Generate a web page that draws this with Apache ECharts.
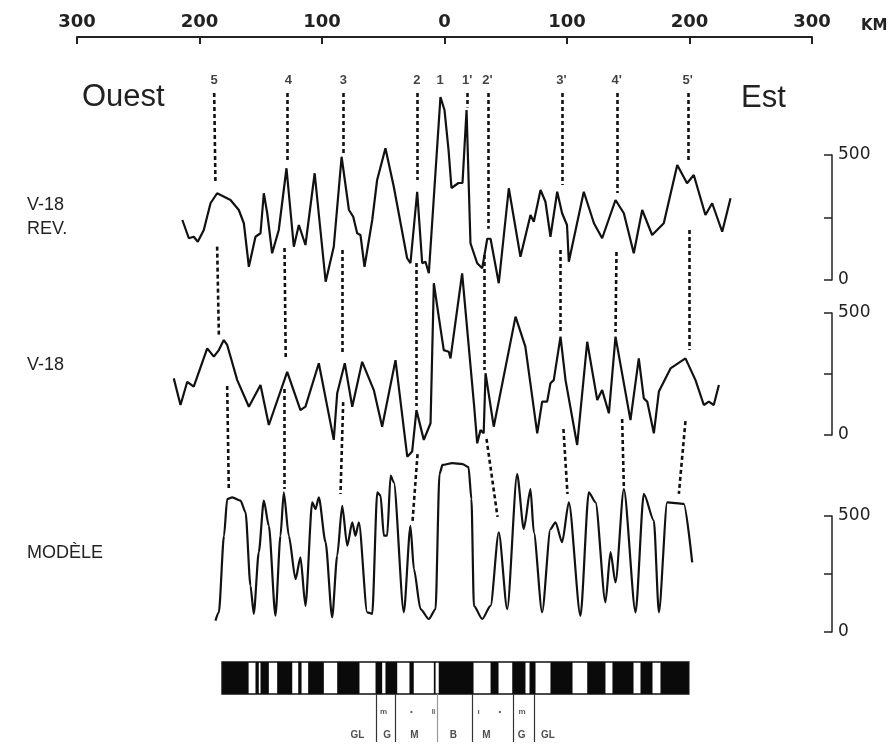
<!DOCTYPE html>
<html>
<head>
<meta charset="utf-8">
<script src="https://cdn.jsdelivr.net/npm/echarts@6/dist/echarts.min.js"></script>
<style>html,body{margin:0;padding:0;background:#fff}#c{width:893px;height:749px}</style>
</head>
<body>
<div id="c"></div>
<script>
// ---- distance axis (km) ----
const kmTicks = [-300, -200, -100, 0, 100, 200, 300];

// ---- V-18 REV. profile (km, nT) ----
const revKm = [-214,-208.7,-204.7,-201.4,-196.5,-191,-185.6,-174.7,-167.9,-163.8,-159.7,-154.3,-150.2,-147.5,-144.7,-140.7,-135.3,-129,-123,-118.9,-113.5,-106,-97,-90.4,-84,-78,-74.5,-71.3,-68.6,-65.3,-59,-55,-48.2,-41.4,-30.5,-27.8,-22.3,-18.2,-15.5,-12.8,-3.3,0,3.3,5.7,11.4,14.7,18,21.2,26.7,30.8,34.9,37.6,44.3,52.5,62,70.2,72.9,78.4,82.4,86.5,92,96,100,101.5,113.7,122,128.7,139.6,146.4,154.5,161.4,169.5,179,190,198,203.5,213,218.5,226.7,233.5];
const revVal = [240,167,173,153,200,307,347,320,280,227,53,173,187,347,267,107,200,447,133,220,140,427,-7,133,493,280,253,187,180,53,240,400,527,373,87,67,353,67,73,27,732,680,520,368,388,388,680,147,67,47,165,165,-13,367,93,260,233,360,313,173,353,267,220,73,353,227,167,320,267,107,280,180,227,460,387,420,260,307,193,327];

// ---- V-18 profile ----
const v18Km = [-221,-215.5,-210,-204.7,-193.7,-188.3,-184.2,-180.2,-177.4,-169.2,-159.7,-150.2,-143.4,-128.4,-117.6,-113.5,-102.6,-90.4,-87.6,-81.4,-75.3,-67.2,-57.7,-50.9,-40,-30.4,-26.4,-22.9,-16.9,-11.4,-8.7,-4.7,-0.6,3.5,4.9,14.4,24,26.7,29.4,32,33.5,40.2,58,66,75.7,79.7,83.8,86.5,89.2,94.7,98.8,108.3,116.5,124.7,128.7,134.2,139.6,151.8,158.6,162.7,165.5,170.9,175,184.5,196.7,204.9,211.7,215.8,219.8,224];
const v18Val = [232,123,218,198,355,321,348,389,369,225,116,205,41,259,102,116,294,-20,171,294,116,300,184,34,307,-89,-68,102,-20,48,622,485,348,341,314,662,130,-34,20,7,253,34,485,362,7,137,137,212,225,403,225,-41,382,143,184,89,403,61,314,150,137,7,178,273,314,225,123,137,123,205];

// ---- MODÈLE profile ----
const modKm = [-187,-184.2,-180,-177.4,-173.3,-166.5,-162.4,-158.4,-155.7,-151.6,-147.5,-143.4,-138,-133.9,-131.2,-127.1,-121.6,-117.6,-113.5,-108,-105.3,-102.6,-97.1,-91.7,-87.6,-83.5,-79.4,-75.3,-72.7,-69.9,-63.1,-59,-54.9,-52.2,-49.5,-46.8,-44,-41.4,-33.2,-27.8,-25,-19.6,-12.8,-7.3,-4.1,-1.6,6.5,14.7,19.6,22,24,30.8,37.6,44.3,51.2,59.3,64.7,70.2,72.9,79.7,86.5,90.6,96,101.5,111,117.8,123.3,131.4,135.5,139.6,146.4,156,162.7,170.9,175,181.8,195.4,202.2];
const modVal = [49,85,415,573,580,566,516,200,78,344,566,458,70,415,602,415,228,322,113,559,530,580,387,63,329,544,372,473,415,473,85,78,602,588,415,415,674,645,85,458,272,99,56,99,681,720,728,724,711,573,113,56,113,430,99,681,444,616,430,85,444,473,387,559,70,602,559,128,344,214,616,85,595,480,85,559,552,300];

// ---- correlation labels & dashed links [kmTop, valTop, kmBottom, valBottom] ----
const anomalyNames = ['5','4','3','2','1',"1'","2'","3'","4'","5'"];
const anomalyKm    = [-188,-127.5,-82.5,-22.5,-3.5,18.5,35,95.5,140.5,198.5];
const labelVal = 800;
const linksRev = [[-188,748,-187,392],[-128,748,-128,468],[-83,748,-83,508],[-22.4,748,-22.4,400],[18.4,748,18.4,690],[35.5,748,35.5,205],[96,748,96,380],[141,748,141,348],[198.8,748,198.8,480]];
const linksV18 = [[-185.6,772,-184.2,410],[-130.6,766,-129.6,307],[-83.3,758,-83.3,340],[-23.3,705,-23.3,119],[32.7,738,32.7,266],[94.7,758,94.7,418],[140.4,750,139.6,422],[199.4,840,199.4,348]];
const linksMod = [[-177.4,1060,-176.1,616],[-131.2,1047,-131.2,616],[-82.7,991,-84.9,595],[-22,767,-26.1,478],[34.3,832,43.3,496],[97.1,875,100.4,595],[145,918,146.4,629],[196.7,909,191.3,595]];

// ---- polarity block model (black = normal), km ----
const blockStart = [-181.6,-154.3,-150.2,-136.6,-119.4,-111.3,-87.6,-56.3,-48.2,-28.6,-8.7,-4.7,37.6,55.3,69.4,86.5,116.5,137.1,160,176.3];
const blockEnd   = [-159.9,-151.6,-143.4,-124.3,-116.7,-98.5,-69.4,-50.9,-38.6,-25.1,-7.3,23.7,44.1,66.1,74.3,104.5,131.4,154.3,169.8,199.4];
const barExtent = [-181.6, 199.4];
const zoneBounds = [-55.9,-40.4,-6.1,22.9,55.9,73];
const zoneLabels = ['GL','G','M','B','M','G','GL'];
const zoneLabelKm = [-71,-46.8,-24.5,7.3,34.3,62.9,84.5];
const zoneMarks = ['m','•','‖','ı','•','m'];
const zoneMarkKm = [-49.8,-27,-9,27.8,45.3,63.3];

const zip = (a, b) => a.map((v, i) => [v, b[i]]);
const linkData = arr => arr.map(l => ({coords: [[l[0], l[1]], [l[2], l[3]]]}));

const chart = echarts.init(document.getElementById('c'), null, {renderer: 'canvas'});
const FONT = 'Liberation Sans';
const grids = [
  {left: 77, right: 81, top: 155, height: 125},
  {left: 77, right: 81, top: 313, height: 122},
  {left: 77, right: 81, top: 516, height: 116},
  {left: 77, right: 81, top: 662, height: 32}
];
const xAxes = grids.map((g, i) => ({
  gridIndex: i, type: 'value', min: -300, max: 300, interval: 100,
  show: i === 0,
  position: 'top', offset: 118,
  axisLine: {show: true, onZero: false, lineStyle: {color: '#222', width: 2}},
  axisTick: {show: true, inside: true, length: 7, lineStyle: {color: '#222', width: 2}},
  axisLabel: {formatter: v => String(Math.abs(v)), color: '#222', fontSize: 18, fontWeight: 'bold', fontFamily: 'DejaVu Sans', margin: 6},
  splitLine: {show: false}
}));
const yAxes = grids.map((g, i) => i < 3 ? ({
  gridIndex: i, type: 'value', min: 0, max: 500, interval: 250,
  position: 'right', offset: 20,
  axisLine: {show: true, onZero: false, lineStyle: {color: '#222', width: 1.5}},
  axisTick: {show: true, inside: true, length: 8, lineStyle: {color: '#222', width: 1.5}},
  axisLabel: {formatter: v => (v === 250 ? '' : String(v)), color: '#222', fontSize: 17, fontFamily: 'DejaVu Sans', margin: 6},
  splitLine: {show: false}
}) : ({gridIndex: i, type: 'value', min: 0, max: 1, show: false}));

const profileStyle = {color: '#111', width: 2.2};
const dashStyle = {color: '#111', width: 2.6, type: [4, 3], opacity: 1};
const series = [
  {type: 'line', xAxisIndex: 0, yAxisIndex: 0, data: zip(revKm, revVal), showSymbol: false, clip: false, lineStyle: profileStyle, silent: true},
  {type: 'line', xAxisIndex: 1, yAxisIndex: 1, data: zip(v18Km, v18Val), showSymbol: false, clip: false, lineStyle: profileStyle, silent: true},
  {type: 'line', xAxisIndex: 2, yAxisIndex: 2, data: zip(modKm, modVal), showSymbol: false, clip: false, smooth: 0.25, smoothMonotone: 'x', lineStyle: profileStyle, silent: true},
  {type: 'lines', coordinateSystem: 'cartesian2d', xAxisIndex: 0, yAxisIndex: 0, data: linkData(linksRev), lineStyle: dashStyle, clip: false, silent: true},
  {type: 'lines', coordinateSystem: 'cartesian2d', xAxisIndex: 1, yAxisIndex: 1, data: linkData(linksV18), lineStyle: dashStyle, clip: false, silent: true},
  {type: 'lines', coordinateSystem: 'cartesian2d', xAxisIndex: 2, yAxisIndex: 2, data: linkData(linksMod), lineStyle: dashStyle, clip: false, silent: true},
  {type: 'scatter', xAxisIndex: 0, yAxisIndex: 0, symbolSize: 0, clip: false, silent: true,
   data: anomalyKm.map((k, i) => ({value: [k, labelVal], name: anomalyNames[i]})),
   label: {show: true, position: 'inside', formatter: p => p.name, color: '#111', fontSize: 13, fontWeight: 'bold', fontFamily: FONT}},
  {type: 'custom', xAxisIndex: 3, yAxisIndex: 3, silent: true, clip: false,
   data: blockStart.map((s, i) => [s, blockEnd[i]]),
   encode: {x: [0, 1]},
   renderItem: (params, api) => {
     const a = api.coord([api.value(0), 1]);
     const b = api.coord([api.value(1), 0]);
     return {type: 'rect', shape: {x: a[0], y: a[1], width: Math.max(1, b[0] - a[0]), height: b[1] - a[1]}, style: {fill: '#0a0a0a'}};
   }},
  {type: 'custom', xAxisIndex: 3, yAxisIndex: 3, silent: true, clip: false,
   data: [barExtent],
   encode: {x: [0, 1]},
   renderItem: (params, api) => {
     const a = api.coord([api.value(0), 1]);
     const b = api.coord([api.value(1), 0]);
     return {type: 'rect', shape: {x: a[0], y: a[1], width: b[0] - a[0], height: b[1] - a[1]}, style: {fill: 'none', stroke: '#111', lineWidth: 1.5}};
   }},
  {type: 'lines', coordinateSystem: 'cartesian2d', xAxisIndex: 3, yAxisIndex: 3, clip: false, silent: true,
   data: zoneBounds.map((k, i) => ({coords: [[k, 0], [k, -1.5]], lineStyle: {color: i === 2 ? '#999' : '#333'}})),
   lineStyle: {width: 1.2, opacity: 1}},
  {type: 'scatter', xAxisIndex: 3, yAxisIndex: 3, symbolSize: 0, clip: false, silent: true,
   data: zoneLabelKm.map((k, i) => ({value: [k, -1.28], name: zoneLabels[i]})),
   label: {show: true, position: 'inside', formatter: p => p.name, color: '#222', fontSize: 10, fontWeight: 'bold', fontFamily: FONT}},
  {type: 'scatter', xAxisIndex: 3, yAxisIndex: 3, symbolSize: 0, clip: false, silent: true,
   data: zoneMarkKm.map((k, i) => ({value: [k, -0.56], name: zoneMarks[i]})),
   label: {show: true, position: 'inside', formatter: p => p.name, color: '#333', fontSize: 8, fontWeight: 'bold', fontFamily: FONT}}
];

const txt = (text, x, y, size, extra) => Object.assign({
  type: 'text', x: x, y: y, silent: true,
  style: Object.assign({text: text, fill: '#222', font: size + 'px "' + FONT + '"', textVerticalAlign: 'middle'}, extra || {})
});

chart.setOption({
  animation: false,
  backgroundColor: '#fff',
  grid: grids,
  xAxis: xAxes,
  yAxis: yAxes,
  series: series,
  graphic: [
    txt('Ouest', 82, 97, 31),
    txt('Est', 741, 98, 31),
    {type: 'text', x: 861, y: 26, silent: true, style: {text: 'KM', fill: '#222', font: 'bold 15px "DejaVu Sans"', textVerticalAlign: 'middle'}},
    txt('V-18', 27, 205, 18),
    txt('REV.', 27, 229, 18),
    txt('V-18', 27, 365, 18),
    txt('MODÈLE', 27, 553, 18)
  ]
});
</script>
</body>
</html>
